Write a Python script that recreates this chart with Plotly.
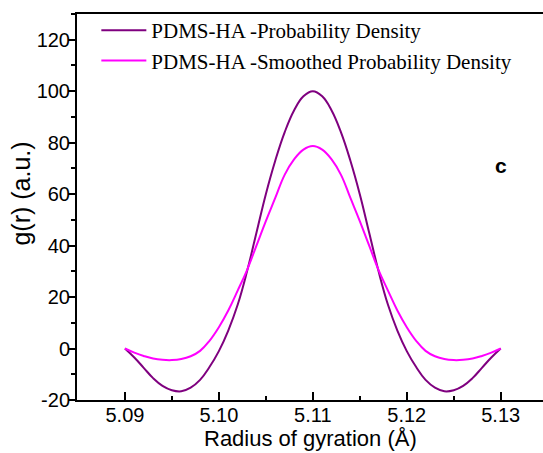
import plotly.graph_objects as go

# Radius of gyration (Å), values every 0.001 Å
radius = [5.090, 5.091, 5.092, 5.093, 5.094, 5.095, 5.096, 5.097, 5.098, 5.099,
          5.100, 5.101, 5.102, 5.103, 5.104, 5.105, 5.106, 5.107, 5.108, 5.109,
          5.110, 5.111, 5.112, 5.113, 5.114, 5.115, 5.116, 5.117, 5.118, 5.119,
          5.120, 5.121, 5.122, 5.123, 5.124, 5.125, 5.126, 5.127, 5.128, 5.129,
          5.130]

g_density = [0.0, -3.5, -7.5, -11.5, -14.5, -16.2, -16.6, -15.2, -12.2, -7.2,
             -1.0, 7.0, 17.0, 30.0, 45.0, 60.0, 73.0, 84.0, 92.5, 98.0,
             100.0, 98.0, 92.5, 84.0, 73.0, 60.0, 45.0, 30.0, 17.0, 7.0,
             -1.0, -7.2, -12.2, -15.2, -16.6, -16.2, -14.5, -11.5, -7.5, -3.5,
             0.0]

g_smoothed = [0.0, -1.6, -2.9, -3.9, -4.4, -4.5, -4.1, -3.0, -0.9, 3.0,
              8.3, 14.8, 22.5, 30.5, 40.0, 49.5, 58.5, 67.5, 73.5, 77.3,
              78.7, 77.3, 73.5, 67.5, 58.5, 49.5, 40.0, 30.5, 22.5, 14.8,
              8.3, 3.0, -0.9, -3.0, -4.1, -4.5, -4.4, -3.9, -2.9, -1.6,
              0.0]

x_ticks = [5.09, 5.10, 5.11, 5.12, 5.13]
y_ticks = [-20, 0, 20, 40, 60, 80, 100, 120]
y_labels = ["-20", "0", "20", "40", "60", "80", "100", "120"]

sans = "Arial, Liberation Sans, sans-serif"
serif = "Times New Roman, Liberation Serif, serif"

fig = go.Figure()
fig.add_trace(go.Scatter(x=radius, y=g_density, mode="lines",
                         line=dict(color="#7F007F", width=2, shape="spline", smoothing=1.2),
                         name="PDMS-HA -Probability Density"))
fig.add_trace(go.Scatter(x=radius, y=g_smoothed, mode="lines",
                         line=dict(color="#FF00FF", width=2, shape="spline", smoothing=1.2),
                         name="PDMS-HA -Smoothed Probability Density"))

fig.update_layout(
    width=543, height=453,
    margin=dict(l=77, r=0, t=14, b=53),
    plot_bgcolor="white", paper_bgcolor="white",
    font=dict(family=sans, size=20, color="black"),
    showlegend=True,
    legend=dict(x=0.0415, y=1.01, xanchor="left", yanchor="top",
                bgcolor="rgba(0,0,0,0)", itemwidth=45,
                font=dict(family=serif, size=21, color="black"),
                tracegroupgap=0),
    annotations=[
        dict(text="<b>c</b>", x=5.130, y=71, xref="x", yref="y",
             showarrow=False, font=dict(family=sans, size=21, color="black")),
        dict(text="Radius of gyration (Å)", x=0.5, y=-0.063, xref="paper", yref="paper",
             xanchor="center", yanchor="top", showarrow=False,
             font=dict(family=sans, size=22, color="black")),
        dict(text="g(r) (a.u.)", x=-0.12, y=0.535, xref="paper", yref="paper",
             xanchor="center", yanchor="middle", textangle=-90, showarrow=False,
             font=dict(family=sans, size=25, color="black")),
    ],
)

fig.update_xaxes(range=[5.0849, 5.1345], tickvals=x_ticks, tickformat=".2f",
                 ticks="inside", ticklen=8, tickwidth=1.5, tickcolor="black",
                 ticklabelstandoff=-4,
                 minor=dict(dtick=0.005, tick0=5.085, ticks="inside", ticklen=4,
                            tickwidth=1.5, tickcolor="black"),
                 showline=True, linecolor="black", linewidth=2, mirror=True,
                 showgrid=False, zeroline=False)
fig.update_yaxes(range=[-20, 130], tickvals=y_ticks, ticktext=y_labels,
                 ticks="outside", ticklen=7, tickwidth=1.5, tickcolor="black",
                 ticklabelstandoff=-6,
                 minor=dict(dtick=10, tick0=0, ticks="outside", ticklen=4,
                            tickwidth=1.5, tickcolor="black"),
                 showline=True, linecolor="black", linewidth=2,
                 showgrid=False, zeroline=False)

fig.write_html("out.html", config={"displayModeBar": False},
               post_script="document.body.style.margin='0px';")
